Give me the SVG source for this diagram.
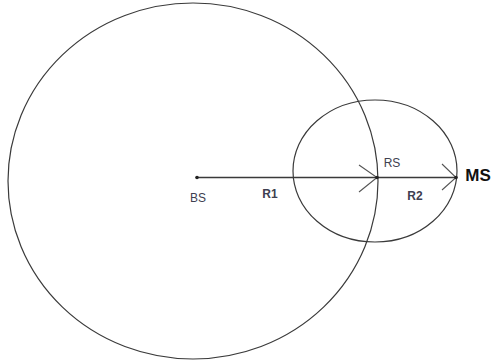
<svg xmlns="http://www.w3.org/2000/svg" width="496" height="364" viewBox="0 0 496 364">
<style>
.c{fill:none;stroke:#3a3a3a;stroke-width:1.2}
.l{fill:none;stroke:#3a3a3a;stroke-width:1.6}
.a{fill:none;stroke:#555;stroke-width:1.1}
.t{font-family:"Liberation Sans",Arial,sans-serif;font-size:12px;fill:#3e4050;text-anchor:middle}
.b{font-weight:bold}
</style>
<rect width="496" height="364" fill="#fff"/>
<g id="bs-cell"><ellipse class="c" cx="193" cy="181" rx="185" ry="178"/></g>
<g id="rs-cell"><ellipse class="c" cx="375" cy="171" rx="82" ry="71"/></g>
<g id="connectors">
<line class="l" x1="197" y1="177.5" x2="456" y2="177.5"/>
<polyline class="a" points="359,165 377,177.5 359,192"/>
<polyline class="a" points="442,164 456,177.5 442,190"/>
</g>
<g id="BS"><circle cx="197" cy="177.5" r="1.8" fill="#222"/><text class="t" x="198" y="202">BS</text></g>
<g id="R1"><text class="t b" x="270" y="198">R1</text></g>
<g id="RS"><circle cx="377" cy="177.5" r="1.8" fill="#222"/><text class="t" x="392" y="167">RS</text></g>
<g id="R2"><text class="t b" x="415" y="200">R2</text></g>
<g id="MS"><circle cx="456" cy="177.5" r="1.8" fill="#222"/><text x="478" y="181" style="font-family:'Liberation Sans',Arial,sans-serif;font-size:17px;font-weight:bold;fill:#111;text-anchor:middle">MS</text></g>
</svg>
